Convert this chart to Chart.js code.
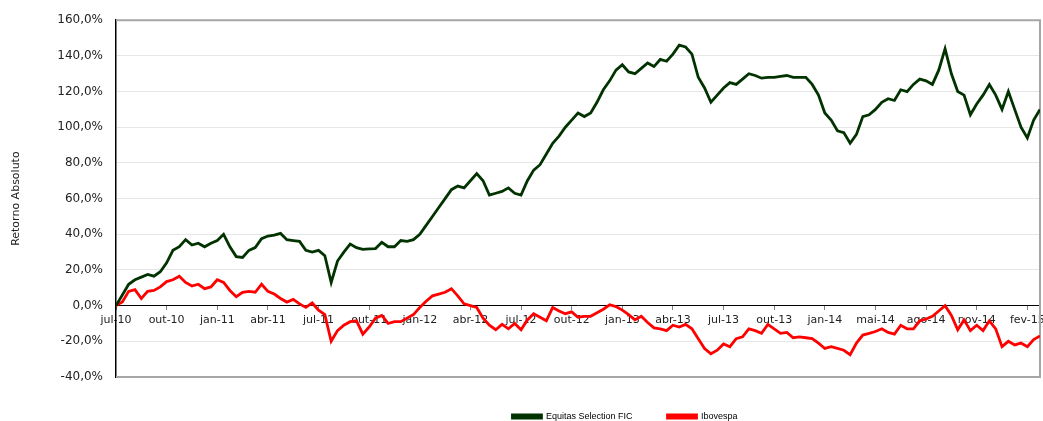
<!DOCTYPE html>
<html>
<head>
<meta charset="utf-8">
<script src="https://cdn.jsdelivr.net/npm/chart.js@4.4.1/dist/chart.umd.min.js"></script>
<style>
  html, body { margin: 0; padding: 0; background: #fff; }
  #wrap { width: 1043px; height: 421px; }
</style>
</head>
<body>
<div id="wrap"><canvas id="retornoChart"></canvas></div>
<script>
// Tick labels, one every 8 points
const tickLabels = ['jul-10', 'out-10', 'jan-11', 'abr-11', 'jul-11', 'out-11', 'jan-12', 'abr-12', 'jul-12',
    'out-12', 'jan-13', 'abr-13', 'jul-13', 'out-13', 'jan-14', 'mai-14', 'ago-14', 'nov-14', 'fev-15'];
const pointsPerTick = 8;

// Retorno acumulado (%)
const equitas = [
    0, 6, 12, 14.5, 16, 17.5, 16.5, 19, 24, 31,
    33, 37, 34, 35, 33, 35, 36.5, 40, 33, 27.5,
    27, 31, 32.5, 37.5, 39, 39.5, 40.5, 37, 36.5, 36,
    31, 30, 31, 28, 13, 25, 30, 34.5, 32.5, 31.5,
    31.8, 32, 35.5, 33, 33, 36.5, 36, 37, 40, 45,
    50, 55, 60, 65, 67, 66, 70, 74, 70, 62,
    63, 64, 66, 63, 62, 70, 76, 79, 85, 91,
    95, 100, 104, 108, 106, 108, 114, 121, 126, 132,
    135, 131, 130, 133, 136, 134, 138, 137, 141, 146,
    145, 141, 128, 122, 114, 118, 122, 125, 124, 127,
    130, 129, 127.5, 128, 128, 128.5, 129, 128, 128, 128,
    124, 118, 108, 104, 98, 97, 91, 96, 106, 107,
    110, 114, 116, 115, 121, 120, 124, 127, 126, 124,
    132, 144, 130, 120, 118, 107, 113, 118, 124, 118,
    110, 120, 110, 100, 94, 104, 110
];
const ibovespa = [
    0, 2, 8, 9, 4, 8, 8.5, 10.5, 13.5, 14.5,
    16.5, 13, 11, 12, 9.5, 10.5, 14.5, 13, 8.5, 5,
    7.5, 8, 7.5, 12, 8, 6.5, 4, 2, 3.5, 1,
    -1, 1.5, -2.5, -5, -20, -14, -11, -9, -8.5, -16,
    -12, -7, -5.5, -10, -9, -9, -7, -5, -1, 2.5,
    5.5, 6.5, 7.5, 9.5, 5.5, 1, 0, -1, -7, -11,
    -13.5, -10.5, -13, -10, -13.5, -8, -4.5, -6.5, -8.5, -1,
    -3, -4.5, -3.5, -6.5, -6, -6, -4, -2, 0.5, -0.5,
    -2.5, -5, -8, -6, -9.5, -12.5, -13, -14, -11, -12,
    -10.5, -13, -18.5, -24, -27, -25, -21.5, -23, -18.5, -17.5,
    -13, -14, -15.5, -10.5, -13, -15.5, -15, -18, -17.5, -18,
    -18.5, -21, -24, -23, -24, -25, -27.5, -21, -16.5, -15.5,
    -14.5, -13, -15, -16, -11, -13, -13, -8.5, -7.5, -6,
    -3, 0, -5.5, -13.5, -8, -14, -11, -14, -8.5, -13,
    -23, -20, -22, -21, -23, -19, -17
];

const fmtPct = v => v.toFixed(1).replace('.', ',') + '%';

// plot frame (top/right/bottom) and legend placement
const framePlugin = {
    id: 'frame',
    afterLayout(chart) {
        chart.legend.left += 105;
        chart.legend.right += 105;
    },
    beforeDatasetsDraw(chart) {
        const { ctx, chartArea: a } = chart;
        ctx.save();
        ctx.strokeStyle = '#a6a6a6';
        ctx.lineWidth = 2;
        ctx.beginPath();
        ctx.moveTo(a.left, a.top);
        ctx.lineTo(a.right, a.top);
        ctx.lineTo(a.right, a.bottom);
        ctx.lineTo(a.left, a.bottom);
        ctx.stroke();
        ctx.restore();
    }
};

document.addEventListener('DOMContentLoaded', function() {
    const ctx = document.getElementById('retornoChart').getContext('2d');
    new Chart(ctx, {
        type: 'line',
        data: {
            datasets: [{
                label: 'Equitas Selection FIC',
                data: equitas.map((v, i) => ({ x: i, y: v })),
                borderColor: '#003300',
                backgroundColor: '#003300',
                borderWidth: 2.8,
                pointRadius: 0,
                tension: 0
            }, {
                label: 'Ibovespa',
                data: ibovespa.map((v, i) => ({ x: i, y: v })),
                borderColor: '#ff0000',
                backgroundColor: '#ff0000',
                borderWidth: 2.8,
                pointRadius: 0,
                tension: 0
            }]
        },
        options: {
            responsive: true,
            maintainAspectRatio: false,
            animation: false,
            layout: { padding: { left: 0, right: 3, top: 17, bottom: 0 } },
            plugins: {
                legend: {
                    position: 'bottom',
                    maxHeight: 44,
                    labels: {
                        boxWidth: 29,
                        boxHeight: 3,
                        padding: 35,
                        color: '#000',
                        font: { family: 'Liberation Sans', size: 9 }
                    }
                },
                tooltip: { enabled: false }
            },
            scales: {
                x: {
                    type: 'linear',
                    position: { y: 0 },
                    min: 0,
                    max: equitas.length - 1,
                    afterFit: scale => { scale.paddingLeft = 0; scale.paddingRight = 0; },
                    grid: { drawOnChartArea: false, tickLength: 4, color: '#808080' },
                    border: { color: '#000', width: 1 },
                    ticks: {
                        stepSize: pointsPerTick,
                        includeBounds: false,
                        maxRotation: 0,
                        autoSkip: false,
                        padding: 4,
                        color: '#222',
                        font: { family: 'DejaVu Sans', size: 11 },
                        callback: v => tickLabels[v / pointsPerTick] || ''
                    }
                },
                y: {
                    min: -40,
                    max: 160,
                    afterFit: scale => { scale.width = 116; },
                    grid: { color: '#e6e6e6', drawTicks: false },
                    border: { color: '#000', width: 1.5 },
                    ticks: {
                        stepSize: 20,
                        padding: 13,
                        color: '#222',
                        font: { family: 'DejaVu Sans', size: 12 },
                        callback: v => fmtPct(v)
                    },
                    title: {
                        display: true,
                        text: 'Retorno Absoluto',
                        color: '#222',
                        padding: { top: 10, bottom: 0 },
                        font: { family: 'DejaVu Sans', size: 11 }
                    }
                }
            }
        },
        plugins: [framePlugin]
    });
});
</script>
</body>
</html>
